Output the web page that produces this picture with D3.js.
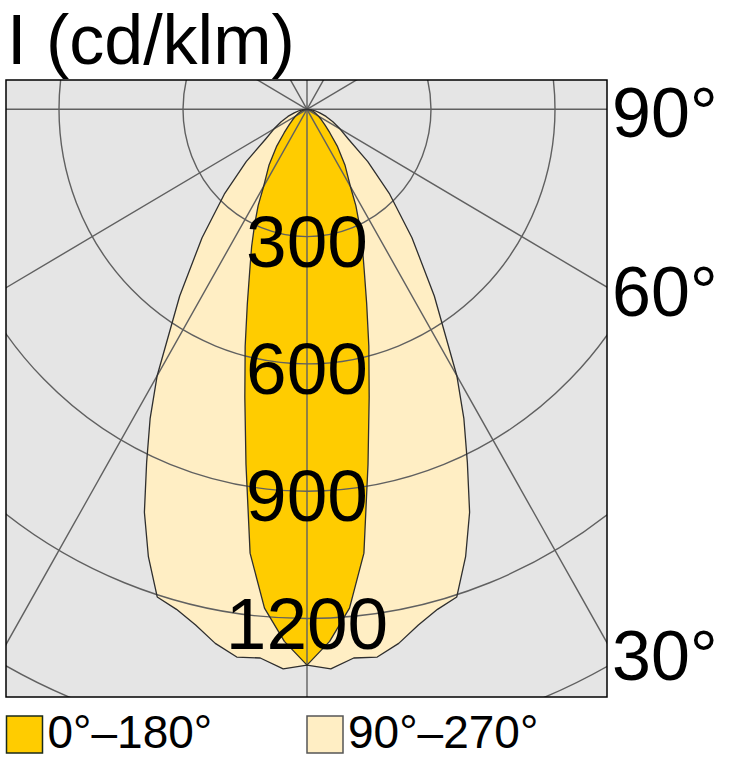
<!DOCTYPE html>
<html>
<head>
<meta charset="utf-8">
<script src="https://cdn.jsdelivr.net/npm/d3@7"></script>
<style>
  html, body { margin: 0; padding: 0; background: #fff; }
  svg { display: block; }
  text { font-family: "Liberation Sans", Arial, sans-serif; fill: #000; }
</style>
</head>
<body>
<svg id="chart" width="729" height="758"></svg>
<script>
// ---- data ----
const gammaAngles = [0, 2.5, 5, 7.5, 10, 12.5, 15, 17.5, 20, 22.5, 25, 27.5, 30, 35, 40, 45, 50, 55, 60, 65, 70, 75, 80, 85, 90];
const plane0_180 = [1310, 1255, 1180, 1055, 850, 695, 578, 480, 405, 350, 300, 256, 210, 160, 115, 78, 56, 42, 32, 24, 17, 11, 7, 3, 0];
const plane90_270 = [1310, 1320, 1298, 1302, 1278, 1245, 1220, 1205, 1122, 1028, 918, 822, 725, 537, 395, 283, 192, 122, 92, 69, 49, 32, 20, 9, 0];
const seriesNames = ["0°–180°", "90°–270°"];
const seriesColors = ["#FFCC00", "#FFEEC4"];
const ringValues = [300, 600, 900, 1200, 1500, 1800];
const ringLabels = ["300", "600", "900", "1200"];
const spokeAngles = [0, 30, 60, 90, 120, 150, 180, 210, 240, 270, 300, 330];
const edgeAngleLabels = [90, 60, 30];
const unitTitle = "I (cd/klm)";

// ---- layout ----
const svg = d3.select("#chart");
const box = { x0: 6, y0: 80, x1: 607, y1: 697 };
const cx = 307, cy = 109.3;
const kx = 124 / 300, ky = 127.3 / 300;
const xS = d3.scaleLinear().domain([-1000, 1000]).range([cx - 1000 * kx, cx + 1000 * kx]);
const yS = d3.scaleLinear().domain([-1000, 1000]).range([cy - 1000 * ky, cy + 1000 * ky]);
const rad = d => d * Math.PI / 180;

svg.append("defs").append("clipPath").attr("id", "clip")
  .append("rect").attr("x", box.x0).attr("y", box.y0)
  .attr("width", box.x1 - box.x0).attr("height", box.y1 - box.y0);

svg.append("rect").attr("x", box.x0).attr("y", box.y0)
  .attr("width", box.x1 - box.x0).attr("height", box.y1 - box.y0)
  .attr("fill", "#E5E5E5");

const plot = svg.append("g").attr("clip-path", "url(#clip)");

// polygon of a curve: left side (C180/C270) from 90 to 0, right side (C0/C90) from 0 to 90
function curvePoints(vals) {
  const pts = [];
  for (let i = gammaAngles.length - 1; i >= 0; i--) {
    const a = rad(gammaAngles[i]);
    pts.push([xS(-vals[i] * Math.sin(a)), yS(vals[i] * Math.cos(a))]);
  }
  for (let i = 1; i < gammaAngles.length; i++) {
    const a = rad(gammaAngles[i]);
    pts.push([xS(vals[i] * Math.sin(a)), yS(vals[i] * Math.cos(a))]);
  }
  return pts;
}
const line = d3.line().curve(d3.curveLinear);
const curves = [plane90_270, plane0_180];
const colors = [seriesColors[1], seriesColors[0]];

curves.forEach((vals, i) => {
  plot.append("path").attr("d", line(curvePoints(vals)) + "Z")
    .attr("fill", colors[i]).attr("stroke", "none");
});

// grid
const grid = plot.append("g").attr("fill", "none").attr("stroke", "#606060").attr("stroke-width", 1.4);
ringValues.forEach(r => {
  grid.append("ellipse").attr("cx", xS(0)).attr("cy", yS(0))
    .attr("rx", xS(r) - xS(0)).attr("ry", yS(r) - yS(0));
});
spokeAngles.forEach(a => {
  const R = 3000;
  grid.append("line").attr("x1", xS(0)).attr("y1", yS(0))
    .attr("x2", xS(R * Math.sin(rad(a)))).attr("y2", yS(R * Math.cos(rad(a))));
});

// outlines
curves.forEach((vals) => {
  plot.append("path").attr("d", line(curvePoints(vals)) + "Z")
    .attr("fill", "none").attr("stroke", "#2e2e2e").attr("stroke-width", 1.3)
    .attr("stroke-linejoin", "round");
});

// frame
svg.append("rect").attr("x", box.x0).attr("y", box.y0)
  .attr("width", box.x1 - box.x0).attr("height", box.y1 - box.y0)
  .attr("fill", "none").attr("stroke", "#000").attr("stroke-width", 1.5);

// ring labels
ringLabels.forEach((t, i) => {
  svg.append("text").attr("x", xS(0)).attr("y", yS(ringValues[i]) + 30)
    .attr("text-anchor", "middle").attr("font-size", 73).text(t);
});

// edge angle labels
const labelDy = { 90: 28, 60: 29, 30: 37 };
edgeAngleLabels.forEach(a => {
  const u = xS.invert(box.x1);
  const v = a === 90 ? 0 : u / Math.tan(rad(a));
  svg.append("text").attr("x", 612).attr("y", yS(v) + labelDy[a])
    .attr("font-size", 70).text(a + "°");
});

// title
svg.append("text").attr("x", 7).attr("y", 64).attr("font-size", 70).text(unitTitle);

// legend
const legendX = [6.5, 307];
seriesNames.forEach((n, i) => {
  svg.append("rect").attr("x", legendX[i]).attr("y", 716).attr("width", 36).attr("height", 37)
    .attr("fill", seriesColors[i]).attr("stroke", i === 0 ? "#1a2a1a" : "#555").attr("stroke-width", 1.5);
  svg.append("text").attr("x", legendX[i] + 41).attr("y", 748).attr("font-size", 46).text(n);
});
</script>
</body>
</html>
